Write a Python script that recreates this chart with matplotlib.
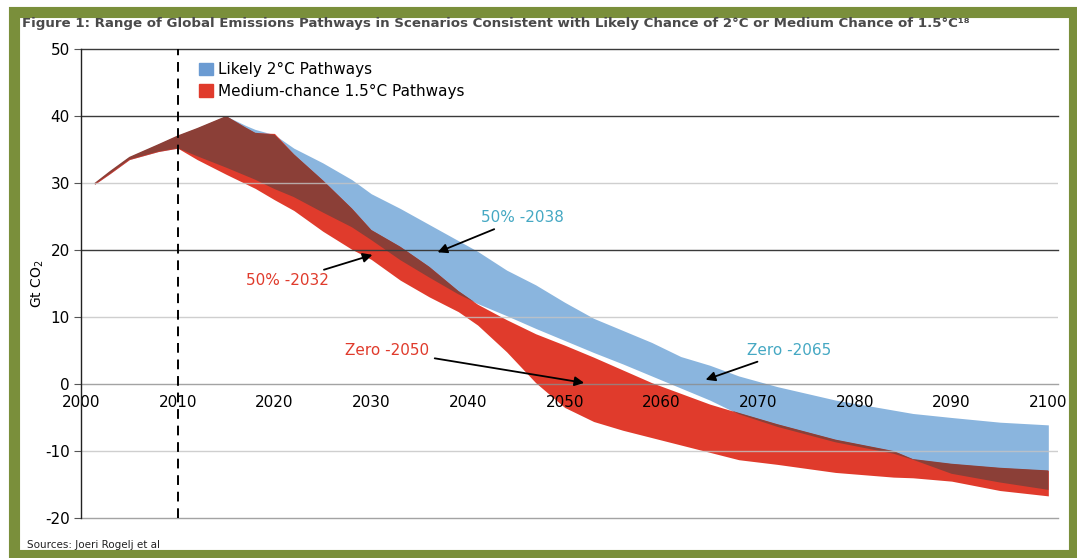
import numpy as np
import matplotlib.pyplot as plt
from matplotlib.patches import Rectangle, Patch

plt.rcParams['axes.unicode_minus'] = False

# pathway band edges (Gt CO2)
years = [2001.4, 2003, 2005, 2008, 2010, 2012, 2015, 2017, 2018, 2020, 2022, 2025,
         2028, 2030, 2033, 2036, 2039, 2041, 2044, 2047, 2050, 2053, 2056, 2059,
         2062, 2065, 2068, 2072, 2078, 2084, 2086, 2090, 2095, 2100]

blue_hi = [30.0, 31.8, 33.9, 35.8, 37.1, 38.2, 40.0, 38.6, 38.0, 37.2, 35.2, 33.0,
           30.5, 28.4, 26.2, 23.8, 21.4, 19.8, 17.0, 14.8, 12.2, 9.8, 8.0, 6.2,
           4.1, 2.8, 1.2, -0.4, -2.4, -3.9, -4.4, -5.0, -5.7, -6.1]
blue_lo = [29.8, 31.4, 33.5, 34.7, 35.2, 34.0, 32.3, 31.1, 30.5, 29.1, 27.9, 25.6,
           23.4, 21.5, 18.5, 15.9, 13.4, 12.0, 10.2, 8.3, 6.5, 4.7, 3.0, 1.2,
           -0.6, -2.4, -4.5, -6.4, -8.7, -10.4, -11.3, -13.4, -14.7, -15.8]

red_hi = [30.0, 31.8, 33.9, 35.8, 37.1, 38.2, 40.0, 38.3, 37.5, 37.4, 34.3, 30.4,
          26.2, 23.0, 20.5, 17.5, 13.9, 11.9, 9.6, 7.5, 5.8, 4.0, 2.1, 0.2,
          -1.4, -3.0, -4.3, -6.0, -8.3, -10.0, -11.2, -11.9, -12.5, -12.9]
red_lo = [29.8, 31.4, 33.5, 34.7, 35.2, 33.5, 31.3, 29.9, 29.2, 27.5, 25.9, 22.8,
          20.1, 18.6, 15.5, 13.0, 10.8, 8.8, 4.8, 0.2, -3.5, -5.6, -6.9, -8.0,
          -9.1, -10.2, -11.3, -12.0, -13.2, -13.9, -14.0, -14.5, -15.9, -16.7]

x_ticks = [2000, 2010, 2020, 2030, 2040, 2050, 2060, 2070, 2080, 2090, 2100]
y_ticks = [-20, -10, 0, 10, 20, 30, 40, 50]

BLUE = '#8ab5de'
RED = '#e03b2c'
DARK = '#8b3f37'
TEAL = '#45a8c3'
GREEN = '#7a8f3b'

years = np.array(years)
blue_hi, blue_lo = np.array(blue_hi), np.array(blue_lo)
red_hi, red_lo = np.array(red_hi), np.array(red_lo)

fig = plt.figure(figsize=(10.77, 5.58), dpi=100)
ax = fig.add_axes([81 / 1077, 1 - 518 / 558, 977 / 1077, 469 / 558])

ax.fill_between(years, blue_lo, blue_hi, color=BLUE, lw=0, zorder=0.5)
ax.fill_between(years, red_lo, red_hi, color=RED, lw=0, zorder=0.6)
lo = np.maximum(blue_lo, red_lo)
hi = np.minimum(blue_hi, red_hi)
ax.fill_between(years, lo, hi, where=hi >= lo, interpolate=True, color=DARK, lw=0, zorder=0.7)

# horizontal rules
for y in y_ticks:
    if y in (50, 40, 20):
        ax.axhline(y, color='#3a3a3a', lw=1.0, zorder=1.0, clip_on=False)
    elif y in (0, -20):
        ax.axhline(y, color='#8c8c8c', lw=1.0, zorder=1.0, alpha=0.8, clip_on=False)
    else:
        ax.axhline(y, color='#c4c4c4', lw=1.0, zorder=1.0, alpha=0.8)

ax.axvline(2010, color='black', lw=1.4, ls=(0, (5, 3.5)), zorder=1.1)

ax.set_xlim(2000, 2101)
ax.set_ylim(-20, 50)
ax.set_xticks(x_ticks)
ax.set_yticks(y_ticks)
for s in ['top', 'right']:
    ax.spines[s].set_visible(False)
ax.spines['bottom'].set_position(('data', 0))
ax.spines['bottom'].set_visible(False)
ax.spines['left'].set_color('#222222')
ax.spines['left'].set_linewidth(1.0)
ax.tick_params(axis='x', length=0, pad=8, labelsize=11)
ax.tick_params(axis='y', length=5, width=0.8, color='#555555', pad=3, labelsize=11)
ax.set_ylabel('Gt CO$_2$', fontsize=10)
ax.yaxis.set_label_coords(-0.036, 0.5)

ax.legend(handles=[Patch(color='#6b9bd2', label='Likely 2°C Pathways'),
                   Patch(color=RED, label='Medium-chance 1.5°C Pathways')],
          loc='upper left', bbox_to_anchor=(0.115, 0.985), frameon=False,
          fontsize=11, handlelength=0.9, handleheight=0.9, handletextpad=0.3,
          labelspacing=0.45, borderaxespad=0)

arrow = dict(arrowstyle='-|>', color='black', lw=1.3, mutation_scale=14)
ax.annotate('50% -2038', xy=(2036.6, 19.5), xytext=(2041.3, 24.8), color=TEAL,
            fontsize=11, va='center', ha='left', arrowprops=arrow, zorder=8)
ax.annotate('50% -2032', xy=(2030.4, 19.4), xytext=(2017.1, 15.4), color=RED,
            fontsize=11, va='center', ha='left', arrowprops=arrow, zorder=8)
ax.annotate('Zero -2050', xy=(2052.3, 0.1), xytext=(2027.3, 5.0), color=RED,
            fontsize=11, va='center', ha='left', arrowprops=arrow, zorder=8)
ax.annotate('Zero -2065', xy=(2064.3, 0.5), xytext=(2068.9, 5.0), color=TEAL,
            fontsize=11, va='center', ha='left', arrowprops=arrow, zorder=8)

fig.text(22 / 1077, 1 - 24 / 558,
         'Figure 1: Range of Global Emissions Pathways in Scenarios Consistent with '
         'Likely Chance of 2°C or Medium Chance of 1.5°C¹⁸',
         fontsize=9.6, fontweight='bold', color='#4a4a4a', va='center', ha='left')
fig.text(27 / 1077, 1 - 545 / 558, 'Sources: Joeri Rogelj et al', fontsize=7.5,
         color='#222222', va='center', ha='left')

# green frame
fig.patches.append(Rectangle((14 / 1077, 3 / 558), (1074 - 14) / 1077, 1 - 15 / 558,
                             transform=fig.transFigure, fill=False, edgecolor=GREEN,
                             lw=8, zorder=0))

fig.savefig('out.png', dpi=100)
